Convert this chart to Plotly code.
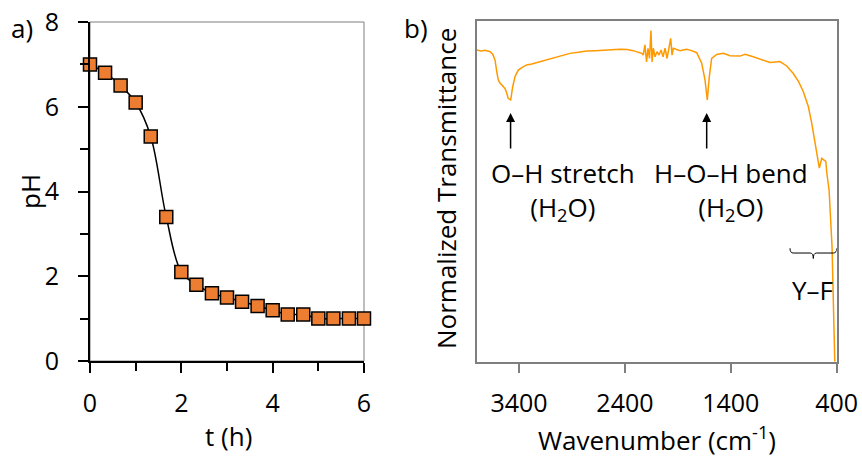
import plotly.graph_objects as go

# ---------------- data ----------------
t_h = [0, 0.33, 0.67, 1.0, 1.33, 1.67, 2.0, 2.33, 2.67, 3.0,
       3.33, 3.67, 4.0, 4.33, 4.67, 5.0, 5.33, 5.67, 6.0]
ph = [7.0, 6.8, 6.5, 6.1, 5.3, 3.4, 2.1, 1.8, 1.6, 1.5,
      1.4, 1.3, 1.2, 1.1, 1.1, 1.0, 1.0, 1.0, 1.0]

wavenumber = [3800, 3760, 3720, 3674, 3650, 3627, 3610, 3596, 3580, 3564, 3548, 3533,
              3518, 3502, 3479, 3460, 3438, 3407, 3370, 3328, 3280, 3233, 3160, 3077,
              3000, 2919, 2840, 2761, 2680, 2604, 2540, 2478, 2447, 2380, 2321, 2274,
              2240, 2227, 2211, 2196, 2182, 2168, 2154, 2144, 2132, 2116, 2097, 2078,
              2059, 2040, 2021, 2002, 1983, 1968, 1955, 1943, 1880, 1817, 1770, 1722,
              1675, 1644, 1622, 1603, 1581, 1533, 1471, 1407, 1313, 1266, 1188, 1093,
              1030, 936, 872, 810, 760, 716, 668, 636, 605, 583, 564, 541, 519, 503,
              493, 472, 444, 432, 418]
transmittance = [0.915, 0.912, 0.914, 0.910, 0.903, 0.886, 0.850, 0.827, 0.818, 0.812, 0.808, 0.802,
                 0.790, 0.773, 0.768, 0.807, 0.837, 0.856, 0.864, 0.871, 0.874, 0.878, 0.884, 0.893,
                 0.898, 0.905, 0.908, 0.912, 0.913, 0.915, 0.916, 0.918, 0.917, 0.916, 0.913, 0.908,
                 0.905, 0.900, 0.930, 0.880, 0.920, 0.890, 0.972, 0.880, 0.920, 0.895, 0.910, 0.900,
                 0.915, 0.895, 0.920, 0.890, 0.925, 0.949, 0.900, 0.920, 0.913, 0.917, 0.913, 0.907,
                 0.876, 0.827, 0.768, 0.837, 0.890, 0.902, 0.905, 0.898, 0.897, 0.902, 0.895, 0.885,
                 0.878, 0.881, 0.868, 0.846, 0.822, 0.793, 0.749, 0.700, 0.641, 0.593, 0.568, 0.597,
                 0.593, 0.588, 0.553, 0.504, 0.338, 0.200, 0.0]

W, H = 862, 457
FONT = "Open Sans"
FS = 25
AFS = 26


def px(x):
    return x / W


def py(y):
    return (H - y) / H


fig = go.Figure()

# ---- panel a ----
fig.add_trace(go.Scatter(
    x=t_h, y=ph, mode="lines+markers", line=dict(color="black", width=1.5, shape="spline"),
    marker=dict(symbol="square", size=13, color="#ED7D31", line=dict(color="black", width=1.5)),
    cliponaxis=False, xaxis="x", yaxis="y", showlegend=False, hoverinfo="skip"))

# ---- panel b ----
fig.add_trace(go.Scatter(
    x=wavenumber, y=transmittance, mode="lines", line=dict(color="#FF9900", width=1.5),
    xaxis="x2", yaxis="y2", showlegend=False, hoverinfo="skip"))

xa_dom = [px(90), px(364)]
ya_dom = [py(361), py(22)]
xb_dom = [px(476.7), px(836.7)]
yb_dom = [py(361.7), py(21)]

tickfont = dict(family=FONT, size=FS, color="black")

fig.update_layout(
    width=W, height=H, margin=dict(l=0, r=0, t=0, b=0, autoexpand=False),
    paper_bgcolor="white", plot_bgcolor="white",
    font=dict(family=FONT, size=FS, color="black"),
    xaxis=dict(domain=xa_dom, range=[0, 6], anchor="y", tickvals=[0, 2, 4, 6],
               ticks="outside", ticklen=10, tickwidth=1.5, tickcolor="black",
               minor=dict(tickvals=[1, 3, 5], ticks="outside", ticklen=8, tickwidth=1.5, tickcolor="black"),
               showline=True, linecolor="black", linewidth=2, showgrid=False, zeroline=False,
               tickfont=tickfont, ticklabelstandoff=9, automargin=False),
    yaxis=dict(domain=ya_dom, range=[0, 8], anchor="x", tickvals=[0, 2, 4, 6, 8],
               ticks="outside", ticklen=10, tickwidth=1.5, tickcolor="black",
               minor=dict(tickvals=[1, 3, 5, 7], ticks="outside", ticklen=8, tickwidth=1.5, tickcolor="black"),
               showline=True, linecolor="black", linewidth=2, showgrid=False, zeroline=False,
               tickfont=tickfont, ticklabelstandoff=14, automargin=False),
    xaxis2=dict(domain=xb_dom, range=[3800, 400], anchor="y2", tickvals=[3400, 2400, 1400, 400],
                ticks="outside", ticklen=10, tickwidth=1.5, tickcolor="#7F7F7F",
                showline=True, linecolor="#7F7F7F", linewidth=1.5, mirror=True,
                showgrid=False, zeroline=False, tickfont=tickfont, ticklabelstandoff=9,
                automargin=False),
    xaxis3=dict(domain=xb_dom, range=[3800, 400], anchor="y2", overlaying="x2",
                tickvals=[3400, 2900, 2400, 1900, 1400, 900, 400],
                ticks="inside", ticklen=8, tickwidth=1.5, tickcolor="#7F7F7F",
                showticklabels=False, showline=False, showgrid=False, zeroline=False,
                automargin=False),
    yaxis2=dict(domain=yb_dom, range=[0, 1], anchor="x2", showticklabels=False, ticks="",
                showline=True, linecolor="#7F7F7F", linewidth=1.5, mirror=True,
                showgrid=False, zeroline=False, automargin=False),
)

# frame of panel a (top and right)
fig.add_shape(type="rect", xref="paper", yref="paper",
              x0=xa_dom[0], x1=xa_dom[1], y0=ya_dom[0], y1=ya_dom[1],
              line=dict(color="#7F7F7F", width=1), layer="below")

# brace over Y-F band
fig.add_shape(type="path", xref="x2", yref="y2",
              path="M 841,0.333 Q 841,0.319 811,0.319 L 651,0.319 Q 621,0.319 621,0.303 "
                   "Q 621,0.319 591,0.319 L 430,0.319 Q 400,0.319 400,0.333",
              line=dict(color="black", width=1))

ann = []


def txt(x, y, s, xref="paper", yref="paper", angle=0, **kw):
    ann.append(dict(x=x, y=y, xref=xref, yref=yref, text=s, showarrow=False,
                    textangle=angle, font=dict(family=FONT, size=AFS, color="black"),
                    xanchor="center", yanchor="middle", **kw))


txt(px(22), py(28), "a)")
txt(px(416), py(28), "b)")
txt(px(30), py(192), "pH", angle=-90)
txt(px(228), py(436), "t (h)")
txt(px(657), py(439), "Wavenumber (cm<sup>-1</sup>)")
txt(px(446), py(189), "Normalized Transmittance", angle=-90)

txt(2985, 0.50, "O\u2013H stretch<br>(H<sub>2</sub>O)", xref="x2", yref="y2")
txt(1400, 0.50, "H\u2013O\u2013H bend<br>(H<sub>2</sub>O)", xref="x2", yref="y2")
txt(633, 0.21, "Y\u2013F", xref="x2", yref="y2")

for wn in [3480, 1628]:
    ann.append(dict(x=wn, y=0.730, xref="x2", yref="y2", text="", showarrow=True,
                    arrowhead=2, arrowsize=1.2, arrowwidth=1.5, arrowcolor="black",
                    ax=0, ay=37, axref="pixel", ayref="pixel"))

fig.update_layout(annotations=ann)

fig.write_html("out.html", config={"displayModeBar": False},
               post_script="document.body.style.margin='0';document.body.style.overflow='hidden';")
